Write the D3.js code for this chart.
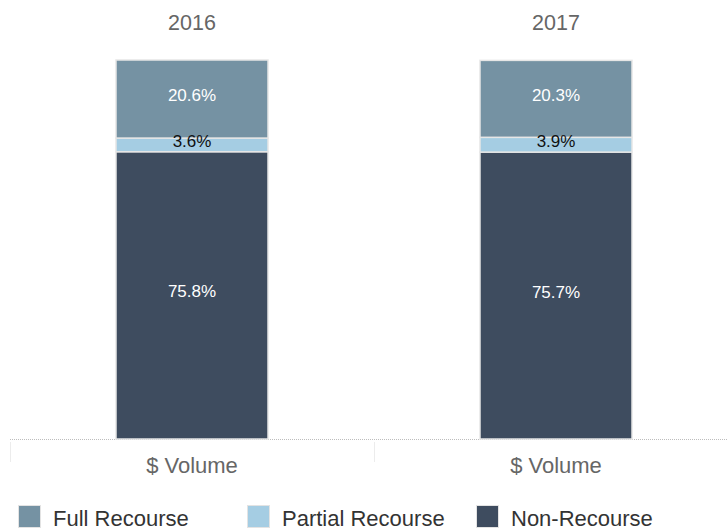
<!DOCTYPE html>
<html>
<head>
<meta charset="utf-8">
<script src="https://cdn.jsdelivr.net/npm/d3@7"></script>
<style>
body{margin:0;background:#fff;}
text{font-family:"Liberation Sans",Arial,sans-serif;}
</style>
</head>
<body>
<svg id="chart" width="727" height="532"></svg>
<script>
const years = ["2016", "2017"];
const categories = ["$ Volume", "$ Volume"];
const seriesNames = ["Non-Recourse", "Partial Recourse", "Full Recourse"];
const nonRecourse = [75.8, 75.7];
const partialRecourse = [3.6, 3.9];
const fullRecourse = [20.6, 20.3];
const legendOrder = ["Full Recourse", "Partial Recourse", "Non-Recourse"];

const colors = {"Full Recourse":"#7592a3","Partial Recourse":"#a5cde3","Non-Recourse":"#3e4c5f"};
const labelColors = {"Full Recourse":"#ffffff","Partial Recourse":"#111111","Non-Recourse":"#ffffff"};

const svg = d3.select("#chart");
const plotBottom = 439;

const rows = years.map((y,i)=>({year:y, cat:categories[i], "Non-Recourse":nonRecourse[i], "Partial Recourse":partialRecourse[i], "Full Recourse":fullRecourse[i]}));
const stacked = d3.stack().keys(seriesNames)(rows);

const x = d3.scaleBand().domain(years).range([10, 738]).paddingInner(0).paddingOuter(0);
const y = d3.scaleLinear().domain([0,100]).range([plotBottom, 60]);
const barW = 152;

// baseline dotted
svg.append("line").attr("x1",10).attr("x2",727).attr("y1",plotBottom+0.5).attr("y2",plotBottom+0.5)
  .attr("stroke","#bdbdbd").attr("stroke-dasharray","1,1").attr("stroke-width",1);
// separators
[10, x("2017")].forEach(px=>{
  svg.append("line").attr("x1",px+0.5).attr("x2",px+0.5).attr("y1",plotBottom+3).attr("y2",plotBottom+23)
    .attr("stroke","#ececec").attr("stroke-width",1);
});

const g = svg.append("g");
stacked.forEach(s=>{
  const name = s.key;
  g.selectAll(null).data(s).enter().append("rect")
    .attr("x",(d,i)=>x(years[i])+x.bandwidth()/2-barW/2)
    .attr("width",barW)
    .attr("y",d=>y(d[1]))
    .attr("height",d=>y(d[0])-y(d[1]))
    .attr("fill",colors[name])
    .attr("stroke","#e6e6e6").attr("stroke-width",1.5);
});
stacked.forEach(s=>{
  const name = s.key;
  g.selectAll(null).data(s).enter().append("text")
    .attr("x",(d,i)=>x(years[i])+x.bandwidth()/2)
    .attr("y",d=>(y(d[0])+y(d[1]))/2 + 2)
    .attr("text-anchor","middle")
    .attr("font-size",17)
    .attr("fill",labelColors[name])
    .text(d=>(d[1]-d[0]).toFixed(1)+"%");
});

// year labels
svg.selectAll(".yr").data(years).enter().append("text")
  .attr("x",d=>x(d)+x.bandwidth()/2).attr("y",30)
  .attr("text-anchor","middle").attr("font-size",21.5).attr("fill","#666666")
  .text(d=>d);

// category labels
svg.selectAll(".cat").data(years).enter().append("text")
  .attr("x",d=>x(d)+x.bandwidth()/2).attr("y",473)
  .attr("text-anchor","middle").attr("font-size",22).attr("fill","#666666")
  .text((d,i)=>categories[i]);

// legend
const legX = [18, 247, 476];
const lg = svg.selectAll(".leg").data(legendOrder).enter().append("g")
  .attr("transform",(d,i)=>`translate(${legX[i]},505)`);
lg.append("rect").attr("x",0.5).attr("y",0.5).attr("width",22).attr("height",22).attr("fill",d=>colors[d])
  .attr("stroke","#e3e3e3").attr("stroke-width",1);
lg.append("text").attr("x",35).attr("y",21).attr("font-size",22).attr("fill","#333")
  .text(d=>d);
</script>
</body>
</html>
